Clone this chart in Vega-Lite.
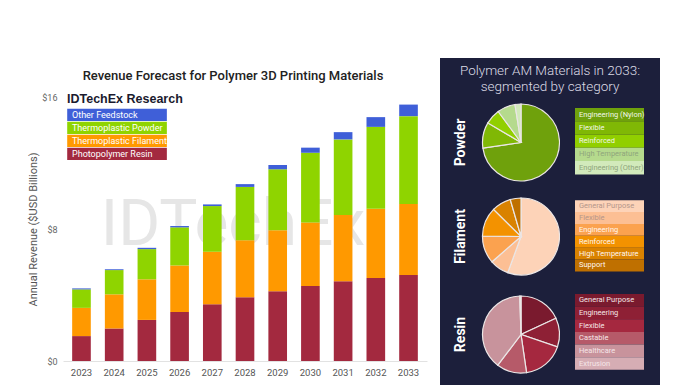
{
  "$schema": "https://vega.github.io/schema/vega-lite/v6.json",
  "padding": {"left": 27, "top": 58, "right": 36, "bottom": 0},
  "background": "white",
  "config": {"view": {"stroke": null}, "font": "Roboto"},
  "spacing": 13,
  "resolve": {"scale": {"color": "independent"}, "legend": {"color": "independent"}},
  "hconcat": [
    {
      "spacing": 0,
      "bounds": "flush",
      "resolve": {"scale": {"color": "independent"}, "legend": {"color": "independent"}},
      "vconcat": [
        {
          "width": 364, "height": 39,
          "data": {"values": [{}]},
          "mark": {"type": "text", "text": "Revenue Forecast for Polymer 3D Printing Materials", "fontSize": 13, "fontWeight": 500, "color": "#222222", "dx": -12, "dy": -2},
          "encoding": {}
        },
        {
          "width": 364,
          "height": 264,
          "layer": [
            {
              "data": {"values": [{}]},
              "mark": {"type": "text", "text": "IDTechEx", "fontSize": 64, "fontWeight": 400, "color": "#e6e6e6", "dx": -12, "dy": -3},
              "encoding": {}
            },
            {
              "data": {"values": [
                {"year": "2023", "segment": "Photopolymer Resin", "value": 1.51},
                {"year": "2023", "segment": "Thermoplastic Filament", "value": 1.71},
                {"year": "2023", "segment": "Thermoplastic Powder", "value": 1.12},
                {"year": "2023", "segment": "Other Feedstock", "value": 0.06},
                {"year": "2024", "segment": "Photopolymer Resin", "value": 1.97},
                {"year": "2024", "segment": "Thermoplastic Filament", "value": 2.07},
                {"year": "2024", "segment": "Thermoplastic Powder", "value": 1.47},
                {"year": "2024", "segment": "Other Feedstock", "value": 0.05},
                {"year": "2025", "segment": "Photopolymer Resin", "value": 2.49},
                {"year": "2025", "segment": "Thermoplastic Filament", "value": 2.46},
                {"year": "2025", "segment": "Thermoplastic Powder", "value": 1.83},
                {"year": "2025", "segment": "Other Feedstock", "value": 0.08},
                {"year": "2026", "segment": "Photopolymer Resin", "value": 2.97},
                {"year": "2026", "segment": "Thermoplastic Filament", "value": 2.82},
                {"year": "2026", "segment": "Thermoplastic Powder", "value": 2.31},
                {"year": "2026", "segment": "Other Feedstock", "value": 0.08},
                {"year": "2027", "segment": "Photopolymer Resin", "value": 3.44},
                {"year": "2027", "segment": "Thermoplastic Filament", "value": 3.18},
                {"year": "2027", "segment": "Thermoplastic Powder", "value": 2.77},
                {"year": "2027", "segment": "Other Feedstock", "value": 0.10},
                {"year": "2028", "segment": "Photopolymer Resin", "value": 3.86},
                {"year": "2028", "segment": "Thermoplastic Filament", "value": 3.46},
                {"year": "2028", "segment": "Thermoplastic Powder", "value": 3.23},
                {"year": "2028", "segment": "Other Feedstock", "value": 0.17},
                {"year": "2029", "segment": "Photopolymer Resin", "value": 4.22},
                {"year": "2029", "segment": "Thermoplastic Filament", "value": 3.70},
                {"year": "2029", "segment": "Thermoplastic Powder", "value": 3.70},
                {"year": "2029", "segment": "Other Feedstock", "value": 0.26},
                {"year": "2030", "segment": "Photopolymer Resin", "value": 4.54},
                {"year": "2030", "segment": "Thermoplastic Filament", "value": 3.86},
                {"year": "2030", "segment": "Thermoplastic Powder", "value": 4.22},
                {"year": "2030", "segment": "Other Feedstock", "value": 0.31},
                {"year": "2031", "segment": "Photopolymer Resin", "value": 4.83},
                {"year": "2031", "segment": "Thermoplastic Filament", "value": 4.02},
                {"year": "2031", "segment": "Thermoplastic Powder", "value": 4.58},
                {"year": "2031", "segment": "Other Feedstock", "value": 0.44},
                {"year": "2032", "segment": "Photopolymer Resin", "value": 5.03},
                {"year": "2032", "segment": "Thermoplastic Filament", "value": 4.20},
                {"year": "2032", "segment": "Thermoplastic Powder", "value": 4.96},
                {"year": "2032", "segment": "Other Feedstock", "value": 0.59},
                {"year": "2033", "segment": "Photopolymer Resin", "value": 5.21},
                {"year": "2033", "segment": "Thermoplastic Filament", "value": 4.30},
                {"year": "2033", "segment": "Thermoplastic Powder", "value": 5.33},
                {"year": "2033", "segment": "Other Feedstock", "value": 0.70}
              ]},
              "transform": [
                {"calculate": "indexof(['Photopolymer Resin', 'Thermoplastic Filament', 'Thermoplastic Powder', 'Other Feedstock'], datum.segment)", "as": "ord"}
              ],
              "mark": {"type": "bar"},
              "encoding": {
                "x": {"field": "year", "type": "ordinal", "scale": {"paddingInner": 0.43, "paddingOuter": 0.28},
                      "axis": {"title": null, "labelAngle": 0, "ticks": false, "domainColor": "#e2e2e2", "labelColor": "#555555", "labelFontSize": 9.5, "labelPadding": 6}},
                "y": {"field": "value", "type": "quantitative", "stack": "zero", "scale": {"domain": [0, 16]},
                      "axis": {"values": [0, 8, 16], "labelExpr": "'$' + datum.value", "grid": false, "ticks": false, "domain": false,
                               "title": "Annual Revenue ($USD Billions)", "titleFontWeight": "normal", "titleFontSize": 11, "titleColor": "#555555",
                               "labelColor": "#666666", "labelFontSize": 9, "labelPadding": 6, "titlePadding": 3}},
                "order": {"field": "ord", "type": "quantitative"},
                "color": {"field": "segment", "type": "nominal",
                          "sort": ["Other Feedstock", "Thermoplastic Powder", "Thermoplastic Filament", "Photopolymer Resin"],
                          "scale": {"domain": ["Other Feedstock", "Thermoplastic Powder", "Thermoplastic Filament", "Photopolymer Resin"],
                                    "range": ["#3f5fd8", "#8fd400", "#ff9900", "#a3293f"]},
                          "legend": {"title": "IDTechEx Research", "orient": "none", "legendX": 4, "legendY": -4,
                                     "titleFont": "Liberation Sans", "titleFontSize": 12.5, "titleFontWeight": "bold", "titleColor": "#1a1a2e", "titlePadding": 3,
                                     "symbolType": "M-1,-0.1184H1V0.1184H-1Z", "symbolSize": 11151, "symbolStrokeWidth": 0, "symbolOpacity": 1,
                                     "clipHeight": 12.5, "rowPadding": 0, "labelOffset": -101, "labelColor": "#ffffff", "labelFontSize": 9, "labelLimit": 200, "padding": 0}}
              }
            }
          ]
        }
      ]
    },
    {
      "spacing": 0,
      "resolve": {"scale": {"color": "independent"}, "legend": {"color": "independent"}},
      "vconcat": [
        {
          "width": 220, "height": 38,
          "view": {"fill": "#1c1f3b", "stroke": null},
          "data": {"values": [{}]},
          "mark": {"type": "text", "text": ["Polymer AM Materials in 2033:", "segmented by category"], "fontSize": 13.5, "fontWeight": 300, "color": "#dcdce6", "lineHeight": 16, "dy": -6},
          "encoding": {}
        },
        {
          "spacing": 0,
          "bounds": "flush",
          "resolve": {"scale": {"color": "independent"}},
          "data": {"values": [
            {"type": "Engineering (Nylon)", "share": 72.7},
            {"type": "Flexible", "share": 10.8},
            {"type": "Reinforced", "share": 6.4},
            {"type": "High Temperature", "share": 7.6},
            {"type": "Engineering (Other)", "share": 2.5}
          ]},
          "hconcat": [
            {
              "width": 42, "height": 93,
              "view": {"fill": "#1c1f3b", "stroke": null},
              "data": {"values": [{}]},
              "mark": {"type": "text", "text": "Powder", "angle": 270, "fontSize": 14, "fontWeight": "bold", "color": "#ffffff"},
              "encoding": {}
            },
            {
              "width": 78, "height": 93,
              "view": {"fill": "#1c1f3b", "stroke": null},
              "transform": [
                {"calculate": "indexof(['Engineering (Nylon)', 'Flexible', 'Reinforced', 'High Temperature', 'Engineering (Other)'], datum.type)", "as": "ord"}
              ],
              "mark": {"type": "arc", "stroke": "#ebe6e6", "strokeWidth": 1.2, "radius": 38.5},
              "encoding": {
                "theta": {"field": "share", "type": "quantitative", "stack": true},
                "order": {"field": "ord", "type": "quantitative"},
                "color": {"field": "type", "type": "nominal",
                          "scale": {"domain": ["Engineering (Nylon)", "Flexible", "Reinforced", "High Temperature", "Engineering (Other)"],
                                    "range": ["#6fa10c", "#80b805", "#91cf00", "#b5da8d", "#d2eabb"]},
                          "legend": null}
              }
            },
            {
              "width": 100, "height": 93,
              "view": {"fill": "#1c1f3b", "stroke": null},
              "encoding": {
                "y": {"field": "type", "type": "nominal", "sort": ["Engineering (Nylon)", "Flexible", "Reinforced", "High Temperature", "Engineering (Other)"],
                      "axis": null, "scale": {"paddingInner": 0, "paddingOuter": 1.65, "align": 0.45}},
                "x": {"datum": 0, "type": "quantitative", "scale": {"domain": [0, 1], "range": [15, 84]}, "axis": null}
              },
              "layer": [
                {
                  "mark": {"type": "rect"},
                  "encoding": {
                    "x2": {"datum": 1},
                    "color": {"field": "type", "type": "nominal",
                              "scale": {"domain": ["Engineering (Nylon)", "Flexible", "Reinforced", "High Temperature", "Engineering (Other)"],
                                        "range": ["#6fa10c", "#80b805", "#91cf00", "#b5da8d", "#d2eabb"]},
                              "legend": null}
                  }
                },
                {
                  "mark": {"type": "text", "align": "left", "dx": 4, "fontSize": 7.5},
                  "encoding": {
                    "text": {"field": "type"},
                    "color": {"condition": {"test": "datum.type === 'High Temperature' || datum.type === 'Engineering (Other)'", "value": "#8fa57c"}, "value": "#f2f7ea"}
                  }
                }
              ]
            }
          ]
        },
        {
          "spacing": 0,
          "bounds": "flush",
          "resolve": {"scale": {"color": "independent"}},
          "data": {"values": [
            {"type": "General Purpose", "share": 55.6},
            {"type": "Flexible", "share": 8.0},
            {"type": "Engineering", "share": 11.6},
            {"type": "Reinforced", "share": 12.2},
            {"type": "High Temperature", "share": 8.1},
            {"type": "Support", "share": 4.5}
          ]},
          "hconcat": [
            {
              "width": 42, "height": 95,
              "view": {"fill": "#1c1f3b", "stroke": null},
              "data": {"values": [{}]},
              "mark": {"type": "text", "text": "Filament", "angle": 270, "fontSize": 14, "fontWeight": "bold", "color": "#ffffff"},
              "encoding": {}
            },
            {
              "width": 78, "height": 95,
              "view": {"fill": "#1c1f3b", "stroke": null},
              "transform": [
                {"calculate": "indexof(['General Purpose', 'Flexible', 'Engineering', 'Reinforced', 'High Temperature', 'Support'], datum.type)", "as": "ord"}
              ],
              "mark": {"type": "arc", "stroke": "#ebe6e6", "strokeWidth": 1.2, "radius": 38.5},
              "encoding": {
                "theta": {"field": "share", "type": "quantitative", "stack": true},
                "order": {"field": "ord", "type": "quantitative"},
                "color": {"field": "type", "type": "nominal",
                          "scale": {"domain": ["General Purpose", "Flexible", "Engineering", "Reinforced", "High Temperature", "Support"],
                                    "range": ["#fdd3b8", "#fcbf94", "#fba24f", "#f39200", "#d98200", "#bf7000"]},
                          "legend": null}
              }
            },
            {
              "width": 100, "height": 95,
              "view": {"fill": "#1c1f3b", "stroke": null},
              "encoding": {
                "y": {"field": "type", "type": "nominal", "sort": ["General Purpose", "Flexible", "Engineering", "Reinforced", "High Temperature", "Support"],
                      "axis": null, "scale": {"paddingInner": 0, "paddingOuter": 1.2, "align": 0.47}},
                "x": {"datum": 0, "type": "quantitative", "scale": {"domain": [0, 1], "range": [15, 84]}, "axis": null}
              },
              "layer": [
                {
                  "mark": {"type": "rect"},
                  "encoding": {
                    "x2": {"datum": 1},
                    "color": {"field": "type", "type": "nominal",
                              "scale": {"domain": ["General Purpose", "Flexible", "Engineering", "Reinforced", "High Temperature", "Support"],
                                        "range": ["#fdd3b8", "#fcbf94", "#fba24f", "#f39200", "#d98200", "#bf7000"]},
                              "legend": null}
                  }
                },
                {
                  "mark": {"type": "text", "align": "left", "dx": 4, "fontSize": 7.5},
                  "encoding": {
                    "text": {"field": "type"},
                    "color": {"condition": {"test": "datum.type === 'General Purpose' || datum.type === 'Flexible'", "value": "#b4968a"}, "value": "#fff6ee"}
                  }
                }
              ]
            }
          ]
        },
        {
          "spacing": 0,
          "bounds": "flush",
          "resolve": {"scale": {"color": "independent"}},
          "data": {"values": [
            {"type": "General Purpose", "share": 18.1},
            {"type": "Engineering", "share": 12.1},
            {"type": "Flexible", "share": 17.5},
            {"type": "Castable", "share": 12.6},
            {"type": "Healthcare", "share": 39.2},
            {"type": "Extrusion", "share": 0.5}
          ]},
          "hconcat": [
            {
              "width": 42, "height": 101,
              "view": {"fill": "#1c1f3b", "stroke": null},
              "data": {"values": [{}]},
              "mark": {"type": "text", "text": "Resin", "angle": 270, "fontSize": 14, "fontWeight": "bold", "color": "#ffffff"},
              "encoding": {}
            },
            {
              "width": 78, "height": 101,
              "view": {"fill": "#1c1f3b", "stroke": null},
              "transform": [
                {"calculate": "indexof(['General Purpose', 'Engineering', 'Flexible', 'Castable', 'Healthcare', 'Extrusion'], datum.type)", "as": "ord"}
              ],
              "mark": {"type": "arc", "stroke": "#ebe6e6", "strokeWidth": 1.2, "radius": 38.5},
              "encoding": {
                "theta": {"field": "share", "type": "quantitative", "stack": true},
                "order": {"field": "ord", "type": "quantitative"},
                "color": {"field": "type", "type": "nominal",
                          "scale": {"domain": ["General Purpose", "Engineering", "Flexible", "Castable", "Healthcare", "Extrusion"],
                                    "range": ["#7a1a2e", "#8e2035", "#a5283f", "#b65a69", "#c8939c", "#d6adb4"]},
                          "legend": null}
              }
            },
            {
              "width": 100, "height": 101,
              "view": {"fill": "#1c1f3b", "stroke": null},
              "encoding": {
                "y": {"field": "type", "type": "nominal", "sort": ["General Purpose", "Engineering", "Flexible", "Castable", "Healthcare", "Extrusion"],
                      "axis": null, "scale": {"paddingInner": 0, "paddingOuter": 1.35, "align": 0.4}},
                "x": {"datum": 0, "type": "quantitative", "scale": {"domain": [0, 1], "range": [15, 84]}, "axis": null}
              },
              "layer": [
                {
                  "mark": {"type": "rect"},
                  "encoding": {
                    "x2": {"datum": 1},
                    "color": {"field": "type", "type": "nominal",
                              "scale": {"domain": ["General Purpose", "Engineering", "Flexible", "Castable", "Healthcare", "Extrusion"],
                                        "range": ["#7a1a2e", "#8e2035", "#a5283f", "#b65a69", "#c8939c", "#d6adb4"]},
                              "legend": null}
                  }
                },
                {
                  "mark": {"type": "text", "align": "left", "dx": 4, "fontSize": 7.5, "color": "#f5e6e8"},
                  "encoding": {"text": {"field": "type"}}
                }
              ]
            }
          ]
        }
      ]
    }
  ]
}
